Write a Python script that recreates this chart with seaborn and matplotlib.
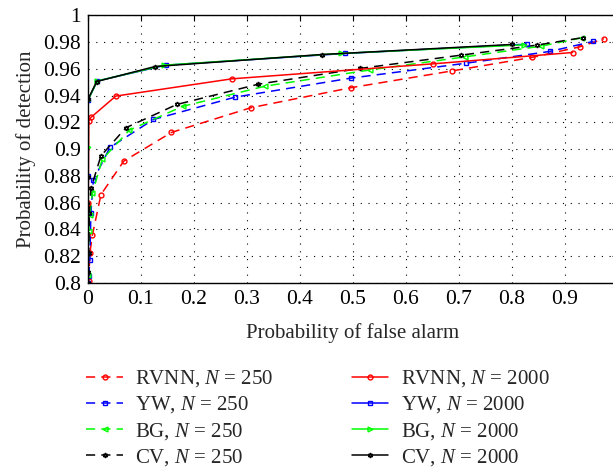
"""ROC curves: RVNN, YW, BG and CV detectors for N = 250 and N = 2000."""

import matplotlib

matplotlib.use("Agg")
import matplotlib.pyplot as plt
import seaborn as sns

# ---- data (x = P_fa, y = P_d) ----
RVNN_250_X = [0.002, 0.004, 0.009, 0.025, 0.068, 0.158, 0.308, 0.497, 0.687, 0.838, 0.928, 0.974]
RVNN_250_Y = [0.801, 0.822, 0.836, 0.866, 0.891, 0.9125, 0.931, 0.946, 0.9585, 0.9686, 0.9765, 0.9825]
YW_250_X = [0.002, 0.004, 0.006, 0.0106, 0.042, 0.124, 0.278, 0.496, 0.714, 0.872, 0.954]
YW_250_Y = [0.805, 0.817, 0.852, 0.8768, 0.9013, 0.9222, 0.9389, 0.9531, 0.9643, 0.9731, 0.9806]
BG_250_X = [0.001, 0.002, 0.004, 0.0087, 0.0275, 0.0785, 0.179, 0.3345, 0.533, 0.711, 0.855, 0.932]
BG_250_Y = [0.806, 0.839, 0.851, 0.867, 0.8923, 0.9142, 0.932, 0.9471, 0.9593, 0.9690, 0.9770, 0.9833]
CV_250_X = [0.001, 0.002, 0.003, 0.006, 0.025, 0.072, 0.168, 0.322, 0.514, 0.704, 0.847, 0.935]
CV_250_Y = [0.808, 0.822, 0.852, 0.8706, 0.895, 0.916, 0.9334, 0.9486, 0.9604, 0.9703, 0.9778, 0.9835]

RVNN_2000_X = [0.0, 0.001, 0.002, 0.006, 0.053, 0.272, 0.651, 0.915]
RVNN_2000_Y = [0.800, 0.860, 0.921, 0.9237, 0.9397, 0.9526, 0.9638, 0.9723]
YW_2000_X = [0.0, 0.0, 0.001, 0.018, 0.147, 0.486, 0.828]
YW_2000_Y = [0.800, 0.880, 0.937, 0.951, 0.9628, 0.9716, 0.9785]
BG_2000_X = [0.0, 0.0, 0.001, 0.018, 0.144, 0.478, 0.823]
BG_2000_Y = [0.800, 0.9017, 0.937, 0.951, 0.9628, 0.9716, 0.978]
CV_2000_X = [0.0, 0.0, 0.001, 0.017, 0.127, 0.442, 0.800]
CV_2000_Y = [0.800, 0.879, 0.9376, 0.9506, 0.9618, 0.9708, 0.9783]

X_TICKS = [0, 0.1, 0.2, 0.3, 0.4, 0.5, 0.6, 0.7, 0.8, 0.9]
Y_TICKS = [0.8, 0.82, 0.84, 0.86, 0.88, 0.9, 0.92, 0.94, 0.96, 0.98, 1.0]
X_LABELS = ["0", "0.1", "0.2", "0.3", "0.4", "0.5", "0.6", "0.7", "0.8", "0.9"]
Y_LABELS = ["0.8", "0.82", "0.84", "0.86", "0.88", "0.9", "0.92", "0.94", "0.96", "0.98", "1"]

HEXAGRAM = (6, 1, 0)
SERIES = [
    ("RVNN", 250, RVNN_250_X, RVNN_250_Y, "red", "o", "--"),
    ("YW", 250, YW_250_X, YW_250_Y, "blue", "s", "--"),
    ("BG", 250, BG_250_X, BG_250_Y, "lime", "<", "--"),
    ("CV", 250, CV_250_X, CV_250_Y, "black", HEXAGRAM, "--"),
    ("RVNN", 2000, RVNN_2000_X, RVNN_2000_Y, "red", "o", "-"),
    ("YW", 2000, YW_2000_X, YW_2000_Y, "blue", "s", "-"),
    ("BG", 2000, BG_2000_X, BG_2000_Y, "lime", ">", "-"),
    ("CV", 2000, CV_2000_X, CV_2000_Y, "black", HEXAGRAM, "-"),
]


def main() -> None:
    sns.set_theme(style="white")
    plt.rcParams["font.family"] = ["Liberation Serif", "DejaVu Serif"]
    plt.rcParams["mathtext.fontset"] = "custom"
    plt.rcParams["mathtext.rm"] = "Liberation Serif"
    plt.rcParams["mathtext.it"] = "Liberation Serif:italic"

    fig = plt.figure(figsize=(6.13, 4.69), dpi=100)
    ax = fig.add_axes([87.7 / 613, 0.397, 530 / 613, 0.570])

    handles = []
    for name, n, xs, ys, color, marker, ls in SERIES:
        sns.lineplot(
            x=xs, y=ys, ax=ax, sort=False, estimator=None, legend=False,
            color=color, linestyle=ls, linewidth=1.1,
            marker=marker, markersize=3.5, markerfacecolor="none",
            markeredgecolor=color, markeredgewidth=1.0,
        )
        line = ax.lines[-1]
        if ls == "--":
            line.set_dashes((6, 4))
        line.set_label(f"{name}, $N$ = {n}")
        handles.append(line)

    ax.set_xlim(0, 1)
    ax.set_ylim(0.8, 1.0)
    ax.set_xticks(X_TICKS, X_LABELS)
    ax.set_yticks(Y_TICKS, Y_LABELS)
    ax.tick_params(direction="in", length=4, width=0.8, labelsize=15.5, pad=5,
                   top=True, right=True, colors="black")
    ax.grid(True, color="black", linestyle=(0, (1, 6)), linewidth=0.8)
    for spine in ax.spines.values():
        spine.set_color("black")
        spine.set_linewidth(1.0)

    ax.set_xlabel("Probability of false alarm", fontsize=15, labelpad=10)
    ax.set_ylabel("Probability of detection", fontsize=15, labelpad=5)

    fig.legend(handles=handles, ncol=2, loc="upper left",
               bbox_to_anchor=(76 / 613, 1 - 358 / 469), frameon=False,
               fontsize=15, handlelength=1.75, handletextpad=0.6,
               columnspacing=3.75, labelspacing=0.25, borderpad=0)

    fig.savefig("out.png", dpi=100)
    plt.close(fig)


if __name__ == "__main__":
    main()
